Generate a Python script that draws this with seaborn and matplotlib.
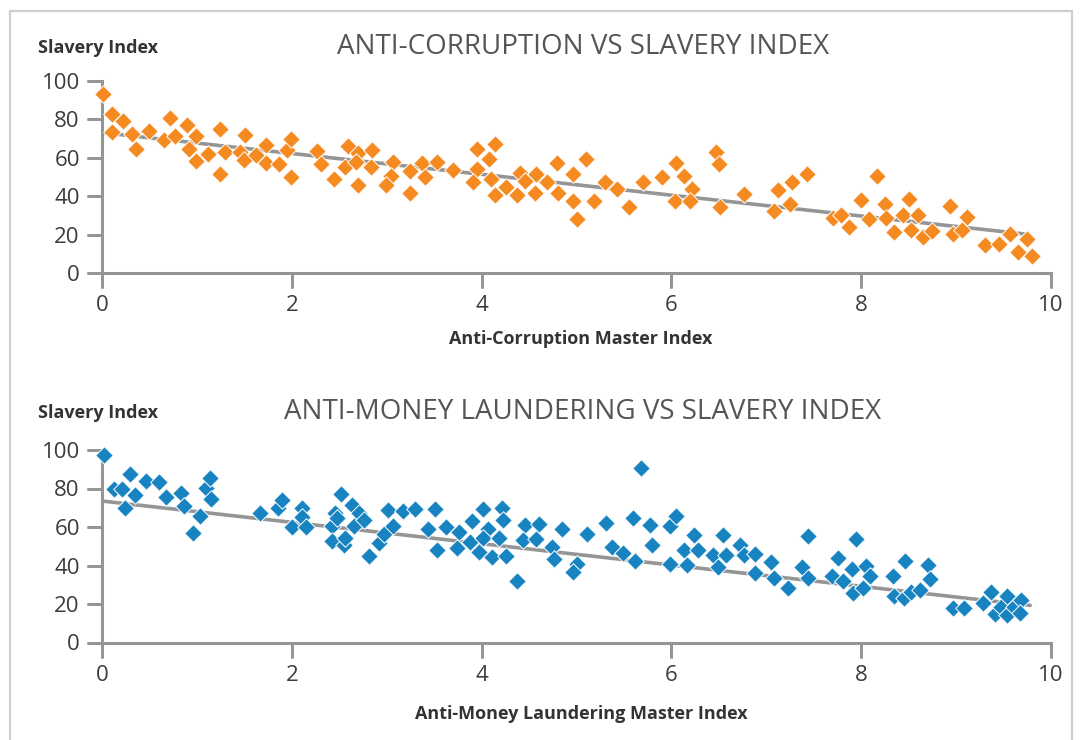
import matplotlib
matplotlib.use("Agg")
import matplotlib.pyplot as plt
import numpy as np
import pandas as pd
import seaborn as sns
from matplotlib.patches import Rectangle

sns.set_theme(style="ticks")
plt.rcParams["font.family"] = ["Open Sans", "DejaVu Sans"]

# %% data
ac_x = [0.01, 0.11, 0.11, 0.22, 0.32, 0.36, 0.49, 0.65, 0.72, 0.77, 0.90, 0.99,
        0.92, 0.99, 1.12, 1.24, 1.24, 1.30, 1.45, 1.51, 1.50, 1.62, 1.73, 1.73,
        1.87, 1.95, 1.99, 1.99, 2.27, 2.31, 2.44, 2.59, 2.56, 2.70, 2.70, 2.85,
        2.83, 2.68, 3.07, 3.05, 2.99, 3.25, 3.25, 3.37, 3.40, 3.53, 3.70, 3.95,
        4.14, 4.08, 3.95, 3.91, 4.10, 4.14, 4.26, 4.37, 4.40, 4.46, 4.57, 4.56,
        4.69, 4.79, 4.80, 4.96, 4.96, 5.10, 5.01, 5.18, 5.30, 5.43, 5.55, 5.70,
        5.90, 6.05, 6.13, 6.22, 6.04, 6.20, 6.47, 6.50, 6.51, 6.76, 7.12, 7.08,
        7.27, 7.25, 7.43, 7.70, 7.79, 7.87, 8.00, 8.08, 8.17, 8.25, 8.26, 8.35,
        8.50, 8.44, 8.52, 8.60, 8.65, 8.75, 8.94, 8.97, 9.06, 9.12, 9.30, 9.45,
        9.57, 9.65, 9.75, 9.80]
ac_y = [93.0, 82.6, 73.4, 79.1, 72.2, 64.7, 73.9, 69.0, 80.5, 71.3, 76.9, 71.0,
        64.7, 58.3, 62.1, 74.8, 51.7, 63.0, 63.0, 71.7, 58.8, 61.2, 66.4, 57.4,
        56.5, 64.0, 69.9, 50.1, 63.5, 56.5, 49.0, 66.1, 55.1, 62.6, 45.7, 64.0,
        55.1, 57.7, 57.7, 50.4, 46.0, 53.0, 41.7, 57.4, 50.0, 57.7, 53.6, 64.3,
        67.0, 59.1, 53.9, 47.3, 49.0, 40.5, 44.9, 40.5, 51.8, 47.8, 51.3, 41.7,
        47.3, 57.4, 41.4, 51.3, 37.7, 59.1, 28.2, 37.7, 47.3, 43.5, 34.3, 47.3,
        50.1, 57.0, 50.4, 43.5, 37.7, 37.4, 63.1, 56.5, 34.4, 40.9, 43.1, 32.2,
        47.3, 35.7, 51.3, 28.7, 30.1, 24.0, 37.9, 28.3, 50.4, 35.7, 28.7, 21.4,
        38.3, 30.4, 22.3, 30.1, 18.8, 21.7, 34.8, 20.3, 22.6, 29.2, 14.8, 15.1,
        20.3, 10.8, 17.9, 9.0]

aml_x = [0.02, 0.13, 0.21, 0.24, 0.30, 0.35, 0.46, 0.60, 0.67, 0.83, 0.86, 0.96,
         1.03, 1.10, 1.14, 1.15, 1.67, 1.85, 1.90, 2.00, 2.11, 2.11, 2.15, 2.42,
         2.46, 2.52, 2.42, 2.55, 2.48, 2.56, 2.63, 2.66, 2.71, 2.76, 2.81, 2.92,
         2.97, 3.01, 3.07, 3.17, 3.30, 3.51, 3.44, 3.53, 3.62, 3.76, 3.74, 3.90,
         3.88, 3.97, 4.02, 4.07, 4.01, 4.18, 4.22, 4.23, 4.11, 4.26, 4.37, 4.46,
         4.44, 4.57, 4.61, 4.74, 4.76, 4.85, 5.00, 4.96, 5.11, 5.31, 5.37, 5.49,
         5.62, 5.60, 5.68, 5.77, 5.80, 5.99, 5.98, 6.05, 6.13, 6.16, 6.24, 6.28,
         6.44, 6.49, 6.54, 6.58, 6.72, 6.76, 6.88, 6.88, 7.05, 7.08, 7.23, 7.44,
         7.38, 7.44, 7.69, 7.76, 7.81, 7.90, 7.91, 7.95, 8.02, 8.05, 8.09, 8.34,
         8.35, 8.45, 8.46, 8.52, 8.62, 8.70, 8.73, 8.97, 9.08, 9.28, 9.37, 9.41,
         9.47, 9.54, 9.54, 9.61, 9.68, 9.67]
aml_y = [97.5, 79.7, 79.7, 69.9, 87.3, 76.5, 84.0, 83.5, 75.7, 77.9, 70.8, 56.9,
         65.7, 80.3, 85.6, 74.3, 67.5, 70.1, 73.9, 60.0, 69.9, 65.2, 60.0, 60.5,
         67.5, 77.0, 52.5, 50.8, 64.9, 54.3, 71.3, 60.5, 67.5, 63.5, 44.9, 51.8,
         56.5, 69.0, 60.5, 68.3, 69.6, 69.6, 59.1, 47.8, 60.0, 57.4, 49.0, 63.0,
         52.2, 47.0, 69.6, 59.1, 54.3, 54.3, 70.1, 63.5, 44.3, 44.9, 31.8, 61.2,
         53.4, 53.6, 61.4, 49.6, 43.5, 59.1, 40.9, 36.5, 56.2, 62.1, 49.6, 46.6,
         42.1, 64.7, 90.5, 61.2, 50.4, 40.9, 60.3, 65.7, 47.8, 40.5, 55.7, 47.8,
         45.2, 39.1, 55.7, 45.2, 50.8, 45.2, 46.1, 36.2, 41.7, 33.4, 28.3, 55.3,
         39.1, 33.4, 34.4, 44.0, 31.7, 38.3, 25.7, 53.9, 28.2, 40.0, 34.4, 34.4,
         24.0, 22.9, 42.1, 26.1, 27.5, 40.3, 33.0, 17.9, 17.9, 20.5, 26.4, 14.8,
         18.3, 24.3, 14.3, 18.3, 22.3, 15.3]

# trend lines as drawn in the source (start / end)
ac_trend_x = [0.0, 9.72]
ac_trend_y = [73.0, 20.3]
aml_trend_x = [0.0, 9.78]
aml_trend_y = [73.5, 19.3]

x_ticks = [0, 2, 4, 6, 8, 10]
y_ticks = [0, 20, 40, 60, 80, 100]

titles = ["ANTI-CORRUPTION VS SLAVERY INDEX", "ANTI-MONEY LAUNDERING VS SLAVERY INDEX"]
xlabels = ["Anti-Corruption Master Index", "Anti-Money Laundering Master Index"]
ylabel = "Slavery Index"
colors = ["#F58A21", "#1784C1"]

# %% figure
W, H = 1082, 740
fig = plt.figure(figsize=(W / 100, H / 100), dpi=100)

# light frame around the panel (bottom edge runs off the canvas)
fig.patches.append(Rectangle((10 / W, -0.1), 1062 / W, 1.1 - 11 / H,
                             transform=fig.transFigure, fill=False,
                             edgecolor="#cfcfcf", linewidth=1.6, zorder=-1))

frames = [pd.DataFrame({"x": ac_x, "y": ac_y}), pd.DataFrame({"x": aml_x, "y": aml_y})]
trends = [pd.DataFrame({"x": ac_trend_x, "y": ac_trend_y}),
          pd.DataFrame({"x": aml_trend_x, "y": aml_trend_y})]
# axes rectangles in pixels: (left, y=0 row, y=100 row)
boxes = [(102, 273, 80.7), (102, 642.5, 450)]
title_rows = [47, 412]
xlabel_rows = [339, 714]

grey = "#959595"
tick_px = 15
for df, tr, (left, y0, y100), col, ttl, xl, trow, xrow in zip(
        frames, trends, boxes, colors, titles, xlabels, title_rows, xlabel_rows):
    ax = fig.add_axes([left / W, (H - y0) / H, (1051 - left) / W, (y0 - y100) / H])
    sns.lineplot(data=tr, x="x", y="y", ax=ax, color=grey, lw=2.6, zorder=2)
    sns.scatterplot(data=df, x="x", y="y", ax=ax, marker="D", s=80,
                    color=col, edgecolor="white", linewidth=0.7,
                    zorder=3, clip_on=False)
    ax.set_xlim(0, 10)
    ax.set_ylim(0, 100)
    ax.set_xticks(x_ticks)
    ax.set_yticks(y_ticks)
    ax.set_xlabel("")
    ax.set_ylabel("")
    sns.despine(ax=ax)
    for s in ["left", "bottom"]:
        ax.spines[s].set_color(grey)
        ax.spines[s].set_linewidth(2.2)
    ax.tick_params(axis="both", which="major", direction="out", length=11,
                   width=2, color=grey, labelsize=16, labelcolor="#3c3c3c",
                   pad=5)

    # outward tick marks drawn as short strokes below / left of the spines
    dy = tick_px * 100 / (y0 - y100)
    dx = tick_px * 10 / (1051 - left)
    for xt in x_ticks:
        ax.plot([xt, xt], [0, -dy], color=grey, lw=2, clip_on=False,
                solid_capstyle="butt", zorder=1)
    for yt in y_ticks:
        ax.plot([-dx, 0], [yt, yt], color=grey, lw=2, clip_on=False,
                solid_capstyle="butt", zorder=1)

    fig.text(583 / W, 1 - trow / H, ttl, ha="center", va="center",
             fontsize=20, color="#555555")
    fig.text(38 / W, 1 - (trow + 1) / H, ylabel, ha="left", va="center",
             fontsize=13, fontweight="bold", color="#333333")
    fig.text(581 / W, 1 - xrow / H, xl, ha="center", va="center",
             fontsize=13, fontweight="bold", color="#333333")

fig.savefig("out.png", dpi=100)
